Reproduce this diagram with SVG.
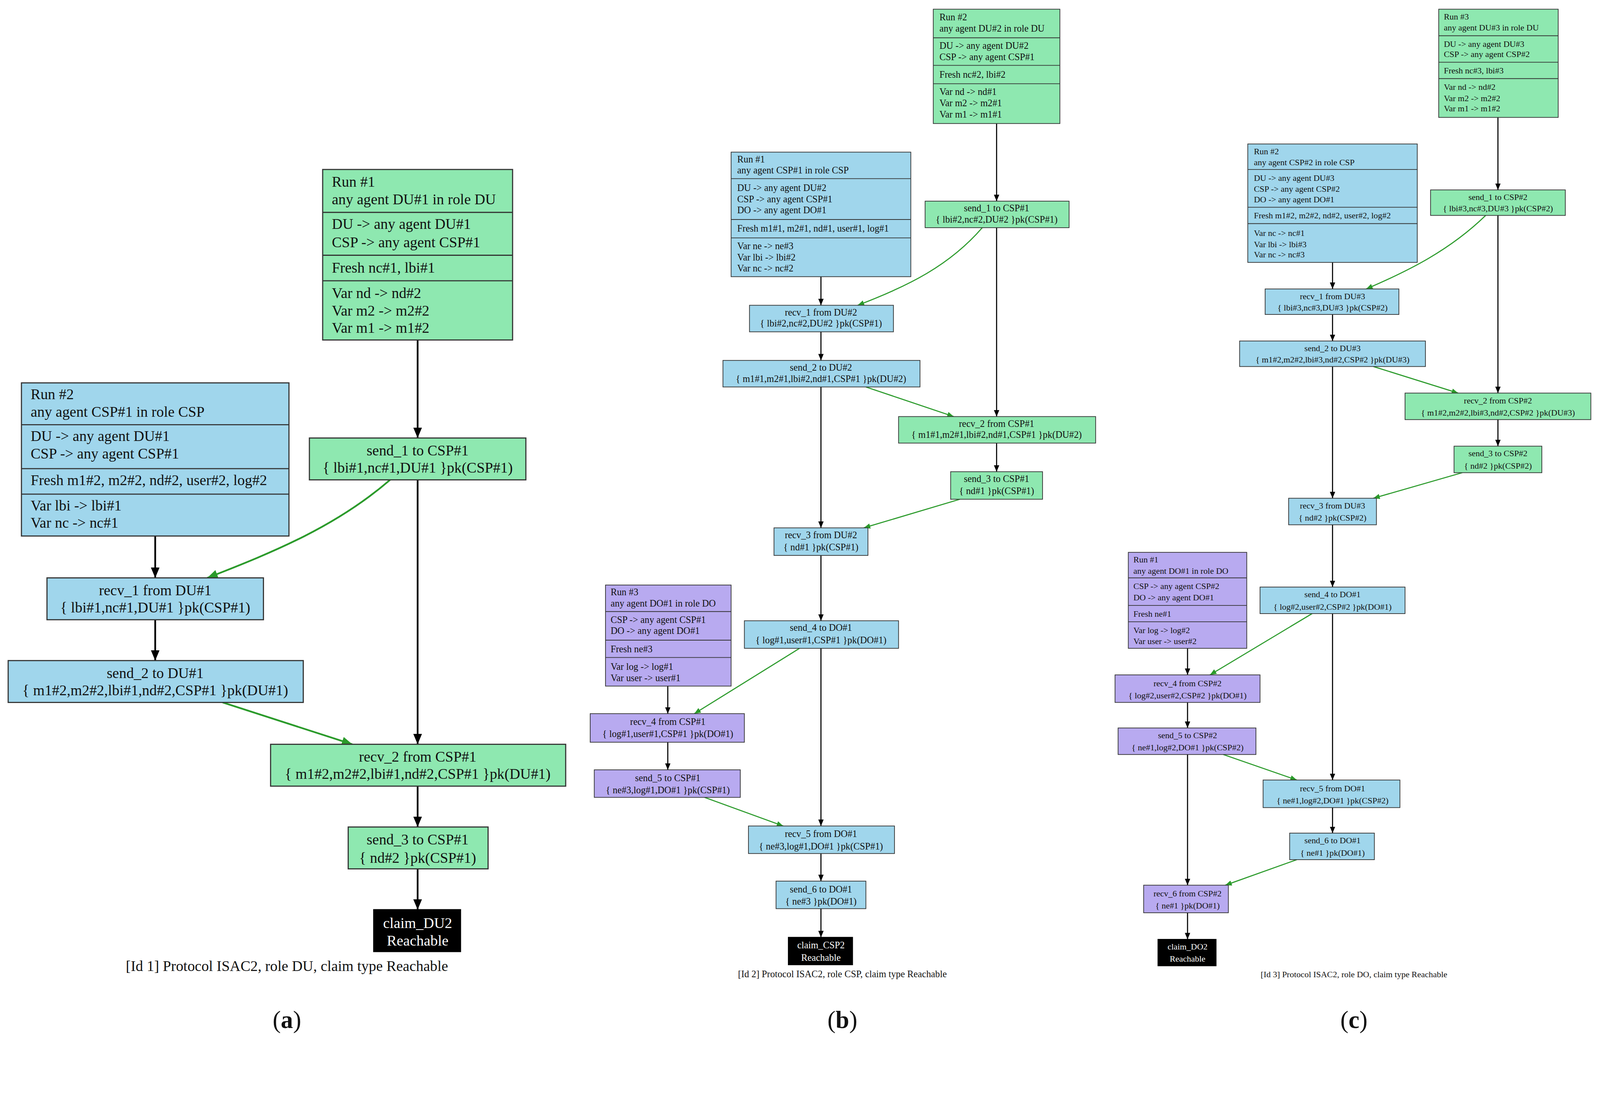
<svg xmlns="http://www.w3.org/2000/svg" width="4332" height="2824" viewBox="0 0 4332 2824">
<defs>
<style>
.g{fill:#8ee8b0;stroke:#333;}
.b{fill:#a0d6ec;stroke:#333;}
.p{fill:#b8aaf0;stroke:#333;}
.k{fill:#000;stroke:#000;}
.A rect,.A line{stroke-width:1.1}
.B rect,.B line,.C rect,.C line{stroke-width:0.7}
.dv{stroke:#333;}
text{font-family:"Liberation Serif","Times New Roman",serif;fill:#111;}
.A text{font-size:14.5px}
.B text{font-size:9.3px}
.C text{font-size:8.4px}
.m{text-anchor:middle}
.w{fill:#fff}
.e{fill:none;stroke:#000;}
.eg{fill:none;stroke:#2a9a2a;}
.A .e,.A .eg{stroke-width:1.7}
.B .e,.B .eg,.C .e,.C .eg{stroke-width:1.05}
.lab{font-size:24px;text-anchor:middle}
</style>
<marker id="ak" markerWidth="6" markerHeight="5" refX="6" refY="2.5" orient="auto" markerUnits="strokeWidth"><path d="M0,0 L6,2.5 L0,5 z" fill="#000"/></marker>
<marker id="ag" markerWidth="6" markerHeight="5" refX="6" refY="2.5" orient="auto" markerUnits="strokeWidth"><path d="M0,0 L6,2.5 L0,5 z" fill="#2a9a2a"/></marker>
</defs>
<g transform="scale(2.614)">
<!-- Panel A -->
<g class="A">
<g id="connectors-a">
<line class="e" x1="409" y1="333" x2="409" y2="429" marker-end="url(#ak)"/>
<line class="e" x1="409" y1="470" x2="409" y2="729" marker-end="url(#ak)"/>
<path class="eg" d="M382,470 C330,515 270,540 203,566" marker-end="url(#ag)"/>
<line class="e" x1="152" y1="525" x2="152" y2="566" marker-end="url(#ak)"/>
<line class="e" x1="152" y1="607" x2="152" y2="647" marker-end="url(#ak)"/>
<line class="eg" x1="218" y1="688" x2="345" y2="729" marker-end="url(#ag)"/>
<line class="e" x1="409" y1="770" x2="409" y2="810" marker-end="url(#ak)"/>
<line class="e" x1="409" y1="851" x2="409" y2="891" marker-end="url(#ak)"/>
</g>
<g id="a-run1"><rect class="g" x="316" y="166" width="186" height="167"/>
<line class="dv" x1="316" y1="208" x2="502" y2="208"/><line class="dv" x1="316" y1="250" x2="502" y2="250"/><line class="dv" x1="316" y1="275" x2="502" y2="275"/>
<text x="325" y="183">Run #1</text><text x="325" y="200">any agent DU#1 in role DU</text>
<text x="325" y="224">DU -&gt; any agent DU#1</text><text x="325" y="242">CSP -&gt; any agent CSP#1</text>
<text x="325" y="267">Fresh nc#1, lbi#1</text>
<text x="325" y="292">Var nd -&gt; nd#2</text><text x="325" y="309">Var m2 -&gt; m2#2</text><text x="325" y="326">Var m1 -&gt; m1#2</text></g>
<g id="a-run2"><rect class="b" x="21" y="375" width="262" height="150"/>
<line class="dv" x1="21" y1="416" x2="283" y2="416"/><line class="dv" x1="21" y1="459" x2="283" y2="459"/><line class="dv" x1="21" y1="484" x2="283" y2="484"/>
<text x="30" y="391">Run #2</text><text x="30" y="408">any agent CSP#1 in role CSP</text>
<text x="30" y="432">DU -&gt; any agent DU#1</text><text x="30" y="449">CSP -&gt; any agent CSP#1</text>
<text x="30" y="475">Fresh m1#2, m2#2, nd#2, user#2, log#2</text>
<text x="30" y="500">Var lbi -&gt; lbi#1</text><text x="30" y="517">Var nc -&gt; nc#1</text></g>
<g id="a-send1"><rect class="g" x="303" y="429" width="212" height="41"/><text class="m" x="409" y="446">send_1 to CSP#1</text><text class="m" x="409" y="463">{ lbi#1,nc#1,DU#1 }pk(CSP#1)</text></g>
<g id="a-recv1"><rect class="b" x="46" y="566" width="212" height="41"/><text class="m" x="152" y="583">recv_1 from DU#1</text><text class="m" x="152" y="600">{ lbi#1,nc#1,DU#1 }pk(CSP#1)</text></g>
<g id="a-send2"><rect class="b" x="8" y="647" width="289" height="41"/><text class="m" x="152" y="664">send_2 to DU#1</text><text class="m" x="152" y="681">{ m1#2,m2#2,lbi#1,nd#2,CSP#1 }pk(DU#1)</text></g>
<g id="a-recv2"><rect class="g" x="265" y="729" width="289" height="41"/><text class="m" x="409" y="746">recv_2 from CSP#1</text><text class="m" x="409" y="763">{ m1#2,m2#2,lbi#1,nd#2,CSP#1 }pk(DU#1)</text></g>
<g id="a-send3"><rect class="g" x="341" y="810" width="137" height="41"/><text class="m" x="409" y="827">send_3 to CSP#1</text><text class="m" x="409" y="845">{ nd#2 }pk(CSP#1)</text></g>
<g id="a-claim"><rect class="k" x="366" y="891" width="85" height="41"/><text class="m w" x="409" y="909">claim_DU2</text><text class="m w" x="409" y="926">Reachable</text></g>
<text class="m" x="281" y="951">[Id 1] Protocol ISAC2, role DU, claim type Reachable</text>
</g>
<text class="lab" x="281" y="1007">(<tspan font-weight="bold">a</tspan>)</text>

<!-- Panel B -->
<g class="B">
<g id="connectors-b">
<line class="e" x1="976" y1="121" x2="976" y2="197" marker-end="url(#ak)"/>
<line class="e" x1="976" y1="223" x2="976" y2="408" marker-end="url(#ak)"/>
<path class="eg" d="M962,223 C930,260 890,280 840,299" marker-end="url(#ag)"/>
<line class="e" x1="804" y1="271" x2="804" y2="299" marker-end="url(#ak)"/>
<line class="e" x1="804" y1="325" x2="804" y2="353" marker-end="url(#ak)"/>
<line class="e" x1="804" y1="379" x2="804" y2="517" marker-end="url(#ak)"/>
<line class="eg" x1="848" y1="379" x2="934" y2="408" marker-end="url(#ag)"/>
<line class="e" x1="976" y1="434" x2="976" y2="462" marker-end="url(#ak)"/>
<line class="eg" x1="940" y1="489" x2="846" y2="517" marker-end="url(#ag)"/>
<line class="e" x1="804" y1="544" x2="804" y2="608" marker-end="url(#ak)"/>
<line class="e" x1="804" y1="635" x2="804" y2="809" marker-end="url(#ak)"/>
<line class="eg" x1="783" y1="635" x2="680" y2="699" marker-end="url(#ag)"/>
<line class="e" x1="654" y1="672" x2="654" y2="699" marker-end="url(#ak)"/>
<line class="e" x1="654" y1="727" x2="654" y2="754" marker-end="url(#ak)"/>
<line class="eg" x1="690" y1="781" x2="767" y2="809" marker-end="url(#ag)"/>
<line class="e" x1="804" y1="836" x2="804" y2="863" marker-end="url(#ak)"/>
<line class="e" x1="804" y1="890" x2="804" y2="918" marker-end="url(#ak)"/>
</g>
<g id="b-run2"><rect class="g" x="914" y="9" width="124" height="112"/>
<line class="dv" x1="914" y1="37" x2="1038" y2="37"/><line class="dv" x1="914" y1="64" x2="1038" y2="64"/><line class="dv" x1="914" y1="82" x2="1038" y2="82"/>
<text x="920" y="20">Run #2</text><text x="920" y="31">any agent DU#2 in role DU</text>
<text x="920" y="48">DU -&gt; any agent DU#2</text><text x="920" y="59">CSP -&gt; any agent CSP#1</text>
<text x="920" y="76">Fresh nc#2, lbi#2</text>
<text x="920" y="93">Var nd -&gt; nd#1</text><text x="920" y="104">Var m2 -&gt; m2#1</text><text x="920" y="115">Var m1 -&gt; m1#1</text></g>
<g id="b-run1"><rect class="b" x="716" y="149" width="176" height="122"/>
<line class="dv" x1="716" y1="175" x2="892" y2="175"/><line class="dv" x1="716" y1="215" x2="892" y2="215"/><line class="dv" x1="716" y1="233" x2="892" y2="233"/>
<text x="722" y="159">Run #1</text><text x="722" y="170">any agent CSP#1 in role CSP</text>
<text x="722" y="187">DU -&gt; any agent DU#2</text><text x="722" y="198">CSP -&gt; any agent CSP#1</text><text x="722" y="209">DO -&gt; any agent DO#1</text>
<text x="722" y="227">Fresh m1#1, m2#1, nd#1, user#1, log#1</text>
<text x="722" y="244">Var ne -&gt; ne#3</text><text x="722" y="255">Var lbi -&gt; lbi#2</text><text x="722" y="266">Var nc -&gt; nc#2</text></g>
<g id="b-send1"><rect class="g" x="906" y="197" width="141" height="26"/><text class="m" x="976" y="207">send_1 to CSP#1</text><text class="m" x="976" y="218">{ lbi#2,nc#2,DU#2 }pk(CSP#1)</text></g>
<g id="b-recv1"><rect class="b" x="734" y="299" width="141" height="26"/><text class="m" x="804" y="309">recv_1 from DU#2</text><text class="m" x="804" y="320">{ lbi#2,nc#2,DU#2 }pk(CSP#1)</text></g>
<g id="b-send2"><rect class="b" x="708" y="353" width="193" height="26"/><text class="m" x="804" y="363">send_2 to DU#2</text><text class="m" x="804" y="374">{ m1#1,m2#1,lbi#2,nd#1,CSP#1 }pk(DU#2)</text></g>
<g id="b-recv2"><rect class="g" x="880" y="408" width="193" height="26"/><text class="m" x="976" y="418">recv_2 from CSP#1</text><text class="m" x="976" y="429">{ m1#1,m2#1,lbi#2,nd#1,CSP#1 }pk(DU#2)</text></g>
<g id="b-send3"><rect class="g" x="931" y="462" width="90" height="27"/><text class="m" x="976" y="472">send_3 to CSP#1</text><text class="m" x="976" y="484">{ nd#1 }pk(CSP#1)</text></g>
<g id="b-recv3"><rect class="b" x="758" y="517" width="92" height="27"/><text class="m" x="804" y="527">recv_3 from DU#2</text><text class="m" x="804" y="539">{ nd#1 }pk(CSP#1)</text></g>
<g id="b-run3"><rect class="p" x="593" y="573" width="123" height="99"/>
<line class="dv" x1="593" y1="599" x2="716" y2="599"/><line class="dv" x1="593" y1="627" x2="716" y2="627"/><line class="dv" x1="593" y1="644" x2="716" y2="644"/>
<text x="598" y="583">Run #3</text><text x="598" y="594">any agent DO#1 in role DO</text>
<text x="598" y="610">CSP -&gt; any agent CSP#1</text><text x="598" y="621">DO -&gt; any agent DO#1</text>
<text x="598" y="639">Fresh ne#3</text>
<text x="598" y="656">Var log -&gt; log#1</text><text x="598" y="667">Var user -&gt; user#1</text></g>
<g id="b-send4"><rect class="b" x="729" y="608" width="151" height="27"/><text class="m" x="804" y="618">send_4 to DO#1</text><text class="m" x="804" y="630">{ log#1,user#1,CSP#1 }pk(DO#1)</text></g>
<g id="b-recv4"><rect class="p" x="578" y="699" width="151" height="28"/><text class="m" x="654" y="710">recv_4 from CSP#1</text><text class="m" x="654" y="722">{ log#1,user#1,CSP#1 }pk(DO#1)</text></g>
<g id="b-send5"><rect class="p" x="582" y="754" width="143" height="27"/><text class="m" x="654" y="765">send_5 to CSP#1</text><text class="m" x="654" y="777">{ ne#3,log#1,DO#1 }pk(CSP#1)</text></g>
<g id="b-recv5"><rect class="b" x="733" y="809" width="143" height="27"/><text class="m" x="804" y="820">recv_5 from DO#1</text><text class="m" x="804" y="832">{ ne#3,log#1,DO#1 }pk(CSP#1)</text></g>
<g id="b-send6"><rect class="b" x="760" y="863" width="88" height="27"/><text class="m" x="804" y="874">send_6 to DO#1</text><text class="m" x="804" y="886">{ ne#3 }pk(DO#1)</text></g>
<g id="b-claim"><rect class="k" x="772" y="918" width="63" height="27"/><text class="m w" x="804" y="929">claim_CSP2</text><text class="m w" x="804" y="941">Reachable</text></g>
<text class="m" x="825" y="957">[Id 2] Protocol ISAC2, role CSP, claim type Reachable</text>
</g>
<text class="lab" x="825" y="1007">(<tspan font-weight="bold">b</tspan>)</text>

<!-- Panel C -->
<g class="C">
<g id="connectors-c">
<line class="e" x1="1467" y1="115" x2="1467" y2="186" marker-end="url(#ak)"/>
<line class="e" x1="1467" y1="211" x2="1467" y2="385" marker-end="url(#ak)"/>
<path class="eg" d="M1455,211 C1420,245 1380,265 1338,283" marker-end="url(#ag)"/>
<line class="e" x1="1305" y1="257" x2="1305" y2="283" marker-end="url(#ak)"/>
<line class="e" x1="1305" y1="308" x2="1305" y2="334" marker-end="url(#ak)"/>
<line class="e" x1="1305" y1="359" x2="1305" y2="488" marker-end="url(#ak)"/>
<line class="eg" x1="1345" y1="359" x2="1428" y2="385" marker-end="url(#ag)"/>
<line class="e" x1="1467" y1="411" x2="1467" y2="437" marker-end="url(#ak)"/>
<line class="eg" x1="1432" y1="463" x2="1345" y2="488" marker-end="url(#ag)"/>
<line class="e" x1="1305" y1="514" x2="1305" y2="575" marker-end="url(#ak)"/>
<line class="e" x1="1305" y1="601" x2="1305" y2="764" marker-end="url(#ak)"/>
<line class="eg" x1="1285" y1="601" x2="1185" y2="661" marker-end="url(#ag)"/>
<line class="e" x1="1163" y1="635" x2="1163" y2="661" marker-end="url(#ak)"/>
<line class="e" x1="1163" y1="688" x2="1163" y2="713" marker-end="url(#ak)"/>
<line class="e" x1="1163" y1="739" x2="1163" y2="867" marker-end="url(#ak)"/>
<line class="eg" x1="1198" y1="739" x2="1270" y2="764" marker-end="url(#ag)"/>
<line class="e" x1="1305" y1="791" x2="1305" y2="816" marker-end="url(#ak)"/>
<line class="eg" x1="1270" y1="842" x2="1200" y2="867" marker-end="url(#ag)"/>
<line class="e" x1="1163" y1="894" x2="1163" y2="920" marker-end="url(#ak)"/>
</g>
<g id="c-run3"><rect class="g" x="1409" y="9" width="117" height="106"/>
<line class="dv" x1="1409" y1="35" x2="1526" y2="35"/><line class="dv" x1="1409" y1="61" x2="1526" y2="61"/><line class="dv" x1="1409" y1="77" x2="1526" y2="77"/>
<text x="1414" y="19">Run #3</text><text x="1414" y="30">any agent DU#3 in role DU</text>
<text x="1414" y="46">DU -&gt; any agent DU#3</text><text x="1414" y="56">CSP -&gt; any agent CSP#2</text>
<text x="1414" y="72">Fresh nc#3, lbi#3</text>
<text x="1414" y="88">Var nd -&gt; nd#2</text><text x="1414" y="99">Var m2 -&gt; m2#2</text><text x="1414" y="109">Var m1 -&gt; m1#2</text></g>
<g id="c-run2"><rect class="b" x="1222" y="141" width="166" height="116"/>
<line class="dv" x1="1222" y1="166" x2="1388" y2="166"/><line class="dv" x1="1222" y1="203" x2="1388" y2="203"/><line class="dv" x1="1222" y1="219" x2="1388" y2="219"/>
<text x="1228" y="151">Run #2</text><text x="1228" y="162">any agent CSP#2 in role CSP</text>
<text x="1228" y="177">DU -&gt; any agent DU#3</text><text x="1228" y="188">CSP -&gt; any agent CSP#2</text><text x="1228" y="198">DO -&gt; any agent DO#1</text>
<text x="1228" y="214">Fresh m1#2, m2#2, nd#2, user#2, log#2</text>
<text x="1228" y="231">Var nc -&gt; nc#1</text><text x="1228" y="242">Var lbi -&gt; lbi#3</text><text x="1228" y="252">Var nc -&gt; nc#3</text></g>
<g id="c-send1"><rect class="g" x="1401" y="186" width="132" height="25"/><text class="m" x="1467" y="196">send_1 to CSP#2</text><text class="m" x="1467" y="207">{ lbi#3,nc#3,DU#3 }pk(CSP#2)</text></g>
<g id="c-recv1"><rect class="b" x="1239" y="283" width="131" height="25"/><text class="m" x="1305" y="293">recv_1 from DU#3</text><text class="m" x="1305" y="304">{ lbi#3,nc#3,DU#3 }pk(CSP#2)</text></g>
<g id="c-send2"><rect class="b" x="1214" y="334" width="182" height="25"/><text class="m" x="1305" y="344">send_2 to DU#3</text><text class="m" x="1305" y="355">{ m1#2,m2#2,lbi#3,nd#2,CSP#2 }pk(DU#3)</text></g>
<g id="c-recv2"><rect class="g" x="1376" y="385" width="182" height="26"/><text class="m" x="1467" y="395">recv_2 from CSP#2</text><text class="m" x="1467" y="407">{ m1#2,m2#2,lbi#3,nd#2,CSP#2 }pk(DU#3)</text></g>
<g id="c-send3"><rect class="g" x="1424" y="437" width="86" height="26"/><text class="m" x="1467" y="447">send_3 to CSP#2</text><text class="m" x="1467" y="459">{ nd#2 }pk(CSP#2)</text></g>
<g id="c-recv3"><rect class="b" x="1262" y="488" width="86" height="26"/><text class="m" x="1305" y="498">recv_3 from DU#3</text><text class="m" x="1305" y="510">{ nd#2 }pk(CSP#2)</text></g>
<g id="c-run1"><rect class="p" x="1105" y="541" width="116" height="94"/>
<line class="dv" x1="1105" y1="566" x2="1221" y2="566"/><line class="dv" x1="1105" y1="593" x2="1221" y2="593"/><line class="dv" x1="1105" y1="609" x2="1221" y2="609"/>
<text x="1110" y="551">Run #1</text><text x="1110" y="562">any agent DO#1 in role DO</text>
<text x="1110" y="577">CSP -&gt; any agent CSP#2</text><text x="1110" y="588">DO -&gt; any agent DO#1</text>
<text x="1110" y="604">Fresh ne#1</text>
<text x="1110" y="620">Var log -&gt; log#2</text><text x="1110" y="631">Var user -&gt; user#2</text></g>
<g id="c-send4"><rect class="b" x="1234" y="575" width="142" height="26"/><text class="m" x="1305" y="585">send_4 to DO#1</text><text class="m" x="1305" y="597">{ log#2,user#2,CSP#2 }pk(DO#1)</text></g>
<g id="c-recv4"><rect class="p" x="1092" y="661" width="142" height="27"/><text class="m" x="1163" y="672">recv_4 from CSP#2</text><text class="m" x="1163" y="684">{ log#2,user#2,CSP#2 }pk(DO#1)</text></g>
<g id="c-send5"><rect class="p" x="1095" y="713" width="135" height="26"/><text class="m" x="1163" y="723">send_5 to CSP#2</text><text class="m" x="1163" y="735">{ ne#1,log#2,DO#1 }pk(CSP#2)</text></g>
<g id="c-recv5"><rect class="b" x="1237" y="764" width="134" height="27"/><text class="m" x="1305" y="775">recv_5 from DO#1</text><text class="m" x="1305" y="787">{ ne#1,log#2,DO#1 }pk(CSP#2)</text></g>
<g id="c-send6"><rect class="b" x="1263" y="816" width="83" height="26"/><text class="m" x="1305" y="826">send_6 to DO#1</text><text class="m" x="1305" y="838">{ ne#1 }pk(DO#1)</text></g>
<g id="c-recv6"><rect class="p" x="1120" y="867" width="83" height="27"/><text class="m" x="1163" y="878">recv_6 from CSP#2</text><text class="m" x="1163" y="890">{ ne#1 }pk(DO#1)</text></g>
<g id="c-claim"><rect class="k" x="1134" y="920" width="57" height="26"/><text class="m w" x="1163" y="930">claim_DO2</text><text class="m w" x="1163" y="942">Reachable</text></g>
<text class="m" x="1326" y="957">[Id 3] Protocol ISAC2, role DO, claim type Reachable</text>
</g>
<text class="lab" x="1326" y="1007">(<tspan font-weight="bold">c</tspan>)</text>
</g>
</svg>
